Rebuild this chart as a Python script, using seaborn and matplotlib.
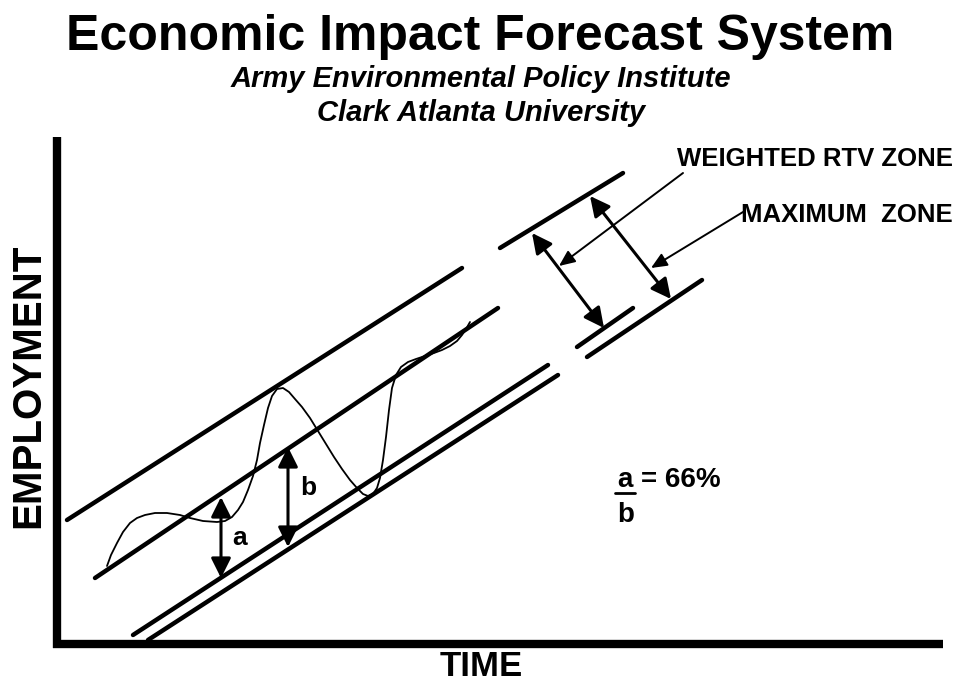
import numpy as np
import pandas as pd
import matplotlib
matplotlib.use("Agg")
import matplotlib.pyplot as plt
import seaborn as sns

# Diagram drawn in image-like coordinates: x = time (px), y = employment (px, inverted)

# frame (time / employment axes)
AXIS_V_X = [57, 57]
AXIS_V_Y = [137, 648]
AXIS_H_X = [53, 943]
AXIS_H_Y = [644, 644]

# band lines: (x0, y0, x1, y1)
BAND_LINES = {
    "upper":       (67, 520, 462, 268),
    "upper_right": (500, 248, 623, 173),
    "middle":      (95, 578, 498, 308),
    "lower_a":     (133, 635, 548, 365),
    "lower_a_r":   (577, 347, 633, 308),
    "lower_b":     (148, 640, 558, 375),
    "lower_b_r":   (587, 357, 702, 280),
}

# employment series (wave)
WAVE_X = [107, 111, 117, 123, 130, 137, 145, 155, 167, 180, 190, 203, 217, 225,
          232, 238, 243, 248, 253, 257, 260, 264, 268, 272, 277, 283, 289, 295,
          302, 310, 318, 326, 334, 342, 350, 357, 363, 368, 373, 377, 380, 383,
          386, 389, 392, 396, 401, 408, 416, 425, 434, 442, 450, 457, 462, 466, 470]
WAVE_Y = [566, 555, 543, 532, 523, 518, 515, 513, 513, 515, 518, 521, 522, 521,
          517, 510, 502, 490, 476, 460, 443, 425, 408, 396, 389, 388, 392, 399,
          407, 418, 431, 444, 457, 469, 480, 488, 494, 496, 494, 488, 478, 460,
          437, 410, 388, 375, 367, 362, 359, 356, 353, 350, 346, 341, 335, 329, 322]

# double-headed arrows: (x0, y0, x1, y1)
DOUBLE_ARROWS = {
    "a":        (221, 497, 221, 578),
    "b":        (288, 447, 288, 547),
    "weighted": (532, 233, 604, 328),
    "maximum":  (590, 196, 671, 299),
}

# leader arrows: text anchor -> tip
LEADERS = {
    "WEIGHTED RTV ZONE": (683, 173, 559, 266),
    "MAXIMUM  ZONE":     (743, 212, 651, 268),
}

sns.set_theme(style="white")
plt.rcParams["font.family"] = ["Liberation Sans", "DejaVu Sans"]
plt.rcParams["text.color"] = "black"

fig = plt.figure(figsize=(9.59, 6.83), dpi=100)
ax = fig.add_axes([0, 0, 1, 1])

# axes frame
ax.plot(AXIS_V_X, AXIS_V_Y, color="black", lw=6, solid_capstyle="butt")
ax.plot(AXIS_H_X, AXIS_H_Y, color="black", lw=6, solid_capstyle="butt")

# band lines
for name, (x0, y0, x1, y1) in BAND_LINES.items():
    ax.plot([x0, x1], [y0, y1], color="black", lw=3.2, solid_capstyle="round")

# wave
wave = pd.DataFrame({"time": WAVE_X, "employment": WAVE_Y})
sns.lineplot(data=wave, x="time", y="employment", sort=False, estimator=None,
             color="black", lw=1.3, ax=ax)
ax.set_xlim(0, 959)
ax.set_ylim(683, 0)
ax.set_axis_off()

# double arrows
for name, (x0, y0, x1, y1) in DOUBLE_ARROWS.items():
    ax.annotate("", xy=(x1, y1), xytext=(x0, y0),
                arrowprops=dict(arrowstyle="<|-|>,head_length=1.0,head_width=0.5",
                                color="black", lw=2.2, shrinkA=0, shrinkB=0))

# leaders
for label, (x0, y0, x1, y1) in LEADERS.items():
    ax.annotate("", xy=(x1, y1), xytext=(x0, y0),
                arrowprops=dict(arrowstyle="-|>,head_length=0.8,head_width=0.35",
                                color="black", lw=1.4, shrinkA=0, shrinkB=0))

ax.text(953, 159, "WEIGHTED RTV ZONE", ha="right", va="center",
        fontsize=18.5, fontweight="bold")
ax.text(953, 215, "MAXIMUM  ZONE", ha="right", va="center",
        fontsize=18.5, fontweight="bold")

# a / b labels
ax.text(240, 538, "a", ha="center", va="center", fontsize=19, fontweight="bold")
ax.text(308, 488, "b", ha="center", va="center", fontsize=19, fontweight="bold")

# ratio text
ax.text(625, 487, "a", ha="center", va="baseline", fontsize=20, fontweight="bold")
ax.plot([615, 635], [493, 493], color="black", lw=2)
ax.text(641, 487, "= 66%", ha="left", va="baseline", fontsize=20, fontweight="bold")
ax.text(626, 522, "b", ha="center", va="baseline", fontsize=20, fontweight="bold")

# titles
ax.text(480, 50, "Economic Impact Forecast System", ha="center", va="baseline",
        fontsize=36, fontweight="bold")
ax.text(481, 87, "Army Environmental Policy Institute", ha="center", va="baseline",
        fontsize=21, fontweight="bold", style="italic")
ax.text(481, 121, "Clark Atlanta University", ha="center", va="baseline",
        fontsize=21, fontweight="bold", style="italic")

# axis labels
ax.text(28, 386, "EMPLOYMENT", ha="center", va="center", rotation=90,
        fontsize=29, fontweight="bold")
ax.text(481, 667, "TIME", ha="center", va="center", fontsize=25, fontweight="bold")

fig.savefig("out.png", dpi=100)
